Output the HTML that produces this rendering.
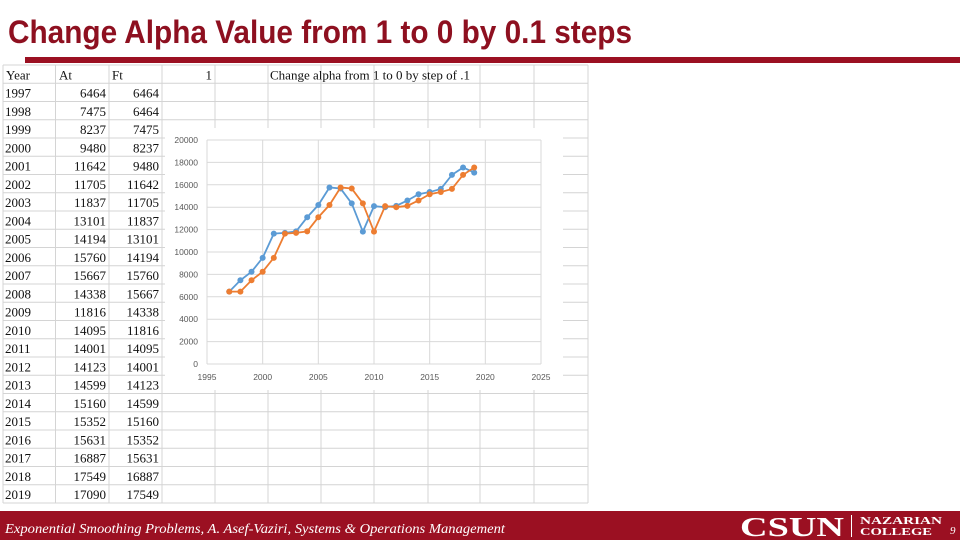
<!DOCTYPE html>
<html><head><meta charset="utf-8"><style>
html,body{margin:0;padding:0;background:#fff;width:960px;height:540px;overflow:hidden}
svg{display:block}
</style></head><body>
<svg id="s" width="960" height="540" viewBox="0 0 960 540" xmlns="http://www.w3.org/2000/svg">
<text x="8" y="43" font-family="Liberation Sans Narrow, Liberation Sans, sans-serif" font-weight="bold" font-size="32" fill="#8e1020" textLength="624" lengthAdjust="spacingAndGlyphs">Change Alpha Value from 1 to 0 by 0.1 steps</text>
<rect x="25" y="57" width="935" height="6" fill="#9b1022"/>
<g id="table"></g>
<g id="chart"></g>
<rect x="0" y="511" width="960" height="29" fill="#9b1022"/>
<text x="5" y="533" font-family="Liberation Serif, serif" font-style="italic" font-size="14" fill="#fff" textLength="500" lengthAdjust="spacingAndGlyphs">Exponential Smoothing Problems, A. Asef-Vaziri, Systems &amp; Operations Management</text>
<text x="740" y="536" font-family="Liberation Serif, serif" font-weight="bold" font-size="27" fill="#fff" textLength="104" lengthAdjust="spacingAndGlyphs">CSUN</text>
<rect x="851" y="515" width="1" height="22" fill="#fff"/>
<text x="860" y="524" font-family="Liberation Serif, serif" font-weight="bold" font-size="10" fill="#fff" textLength="82" lengthAdjust="spacingAndGlyphs">NAZARIAN</text>
<text x="860" y="535" font-family="Liberation Serif, serif" font-weight="bold" font-size="10" fill="#fff" textLength="72" lengthAdjust="spacingAndGlyphs">COLLEGE</text>
<text x="950" y="534" font-family="Liberation Serif, serif" font-style="italic" font-size="11" fill="#fff">9</text>
</svg>
<script>
const years=[1997,1998,1999,2000,2001,2002,2003,2004,2005,2006,2007,2008,2009,2010,2011,2012,2013,2014,2015,2016,2017,2018,2019];
const At=[6464,7475,8237,9480,11642,11705,11837,13101,14194,15760,15667,14338,11816,14095,14001,14123,14599,15160,15352,15631,16887,17549,17090];
const Ft=[6464,6464,7475,8237,9480,11642,11705,11837,13101,14194,15760,15667,14338,11816,14095,14001,14123,14599,15160,15352,15631,16887,17549];
const yTicks=[0,2000,4000,6000,8000,10000,12000,14000,16000,18000,20000];
const xTicks=[1995,2000,2005,2010,2015,2020,2025];
const NS='http://www.w3.org/2000/svg';
function mk(t,a,p){const e=document.createElementNS(NS,t);for(const k in a)e.setAttribute(k,a[k]);p.appendChild(e);return e;}
// table
const tb=document.getElementById('table');
const colX=[3,55.5,109,162,215,268,321,374,428,480,534,588];
const rowY0=65,rh=18.25,nRows=24;
for(let i=0;i<=nRows;i++){const l=mk('line',{x1:3,x2:588,y1:rowY0+i*rh,y2:rowY0+i*rh,stroke:'#d4d4d4','stroke-width':1},tb);
}
colX.forEach(x=>{const l=mk('line',{x1:x,x2:x,y1:rowY0,y2:rowY0+nRows*rh,stroke:'#d4d4d4','stroke-width':1},tb);
});
function cell(txt,x,y,anchor,name){const t=mk('text',{x:x,y:y,'font-family':'Liberation Serif, serif','font-size':13,fill:'#111','text-anchor':anchor},tb);t.textContent=txt;
}
const hy=rowY0+rh-4;
cell('Year',6,hy,'start','header-year');cell('At',59,hy,'start','header-at');cell('Ft',112,hy,'start','header-ft');
cell('1',212,hy,'end','alpha-value');cell('Change alpha from 1 to 0 by step of .1',270,hy,'start','table-note');
years.forEach((y,i)=>{const yy=rowY0+(i+2)*rh-4;cell(String(y),5,yy,'start','year-cell');cell(String(At[i]),106,yy,'end','at-cell');cell(String(Ft[i]),159,yy,'end','ft-cell');});
// chart
const ch=document.getElementById('chart');
const bg=mk('rect',{x:165,y:128,width:398,height:262,fill:'#fff'},ch);

const L=207,R=541,T=140,B=364;
const xs=v=>L+(v-1995)/30*(R-L), ys=v=>B-v/20000*(B-T);
yTicks.forEach(v=>{const g=mk('line',{x1:L,x2:R,y1:ys(v),y2:ys(v),stroke:'#d9d9d9','stroke-width':1},ch);

const t=mk('text',{x:198,y:ys(v)+3,'font-family':'Liberation Sans, sans-serif','font-size':8.5,fill:'#595959','text-anchor':'end'},ch);t.textContent=v;
});
xTicks.forEach(v=>{const g=mk('line',{x1:xs(v),x2:xs(v),y1:T,y2:B,stroke:'#d9d9d9','stroke-width':1},ch);

const t=mk('text',{x:xs(v),y:380,'font-family':'Liberation Sans, sans-serif','font-size':8.5,fill:'#595959','text-anchor':'middle'},ch);t.textContent=v;
});
function series(vals,color,name){const p=mk('polyline',{points:vals.map((v,i)=>xs(years[i])+','+ys(v)).join(' '),fill:'none',stroke:color,'stroke-width':1.8},ch);

vals.forEach((v,i)=>{const c=mk('circle',{cx:xs(years[i]),cy:ys(v),r:3,fill:color},ch);
});}
series(At,'#5b9bd5','at-series');
series(Ft,'#ed7d31','ft-series');
</script>
</body></html>
